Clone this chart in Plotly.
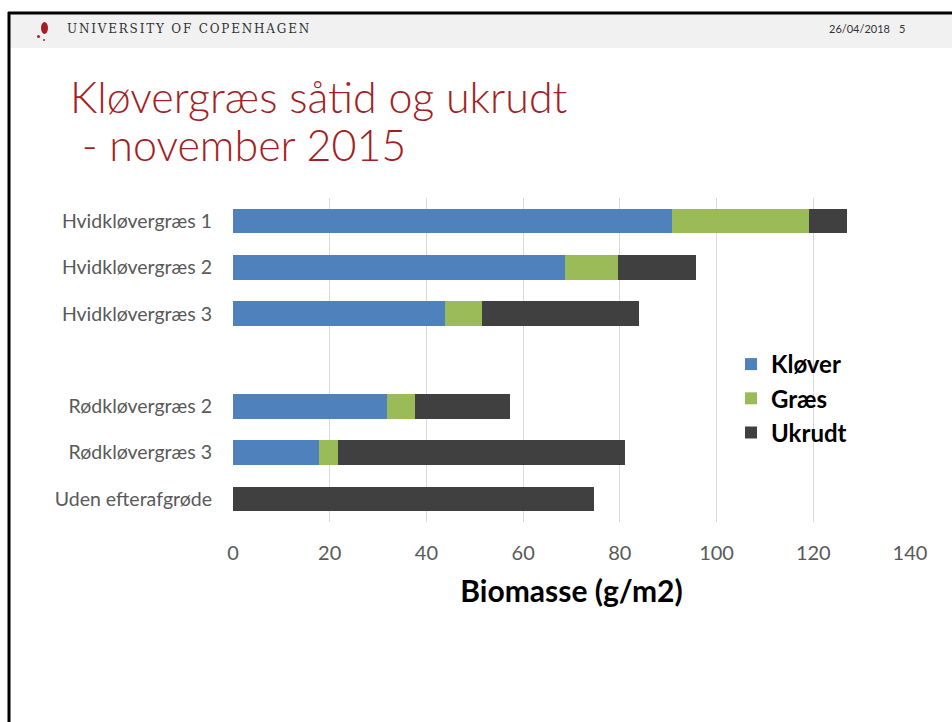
import plotly.graph_objects as go

categories = ["Hvidkløvergræs 1", "Hvidkløvergræs 2", "Hvidkløvergræs 3", " ",
              "Rødkløvergræs 2", "Rødkløvergræs 3", "Uden efterafgrøde"]
klover = [90.8, 68.7, 43.8, None, 31.9, 17.8, 0]
graes = [28.3, 11.0, 7.6, None, 5.7, 4.0, 0]
ukrudt = [7.8, 16.0, 32.6, None, 19.7, 59.3, 74.6]
x_ticks = [0, 20, 40, 60, 80, 100, 120, 140]

W, H = 952, 722
L, R, T, B = 233, 910, 198, 522

def px(x):
    return (x - L) / (R - L)

def py(y):
    return (B - y) / (B - T)

fig = go.Figure()
for name, vals, col in [("Kløver", klover, "#4F81BD"),
                        ("Græs", graes, "#9BBB59"),
                        ("Ukrudt", ukrudt, "#404040")]:
    fig.add_trace(go.Bar(y=categories, x=vals, name=name, orientation="h",
                         marker=dict(color=col, line=dict(width=0))))

shapes = [
    dict(type="rect", xref="paper", yref="paper", x0=px(10), x1=px(952), y0=py(48), y1=py(14),
         fillcolor="#f1f1f1", line=dict(width=0), layer="below"),
    dict(type="line", xref="paper", yref="paper", x0=px(8), x1=px(952), y0=py(13), y1=py(13),
         line=dict(color="black", width=3)),
    dict(type="line", xref="paper", yref="paper", x0=px(9), x1=px(9), y0=py(12), y1=py(722),
         line=dict(color="black", width=3)),
    dict(type="circle", xref="paper", yref="paper", x0=px(41), x1=px(48), y0=py(34), y1=py(22),
         fillcolor="#A31F24", line=dict(width=0)),
    dict(type="circle", xref="paper", yref="paper", x0=px(37), x1=px(40), y0=py(38), y1=py(35),
         fillcolor="#A31F24", line=dict(width=0)),
    dict(type="circle", xref="paper", yref="paper", x0=px(43), x1=px(45), y0=py(41), y1=py(39),
         fillcolor="#A31F24", line=dict(width=0)),
]

annotations = [
    dict(text='<span style="letter-spacing:1.8px">UNIVERSITY OF COPENHAGEN</span>',
         x=px(65), y=py(29), xanchor="left", yanchor="middle",
         font=dict(family="DejaVu Serif", size=12, color="#333333")),
    dict(text="26/04/2018", x=px(859), y=py(29), xanchor="center", yanchor="middle",
         font=dict(family="Lato", size=11, color="#333333")),
    dict(text="5", x=px(902), y=py(29), xanchor="center", yanchor="middle",
         font=dict(family="Lato", size=11, color="#333333")),
    dict(text="Kløvergræs såtid og ukrudt", x=px(68), y=py(97), xanchor="left", yanchor="middle",
         font=dict(family="Lato", size=43, color="#A31F24", weight=300)),
    dict(text=" - november 2015", x=px(68), y=py(145), xanchor="left", yanchor="middle",
         font=dict(family="Lato", size=43, color="#A31F24", weight=300)),
]
for a in annotations:
    a.update(xref="paper", yref="paper", showarrow=False)

fig.update_layout(
    width=W, height=H,
    margin=dict(l=L, r=W - R, t=T, b=H - B, pad=0),
    paper_bgcolor="white", plot_bgcolor="white",
    barmode="stack", bargap=0.47,
    font=dict(family="Lato"),
    showlegend=True,
    legend=dict(x=px(731), y=py(342), xanchor="left", yanchor="top",
                font=dict(family="Lato", size=24, color="black", weight="bold"),
                traceorder="normal", bgcolor="rgba(0,0,0,0)"),
    shapes=shapes, annotations=annotations,
)
fig.update_xaxes(range=[0, 140], tickvals=x_ticks, ticktext=[str(v) for v in x_ticks],
                 showgrid=True, gridcolor="#D9D9D9", gridwidth=1, zeroline=False,
                 showline=False, ticks="", ticklabelstandoff=17,
                 tickfont=dict(family="Lato", size=20, color="#595959"),
                 title=dict(text="<b>Biomasse (g/m2)</b>", standoff=17,
                            font=dict(family="Lato", size=30, color="black")))
fig.update_yaxes(categoryorder="array", categoryarray=categories, autorange="reversed",
                 showgrid=False, zeroline=False, showline=False, ticks="",
                 ticklabelstandoff=20,
                 tickfont=dict(family="Lato", size=19.5, color="#595959"))

fig.write_html("out.html", config={"displayModeBar": False},
               post_script="document.body.style.margin='0';document.body.style.overflow='hidden';")
